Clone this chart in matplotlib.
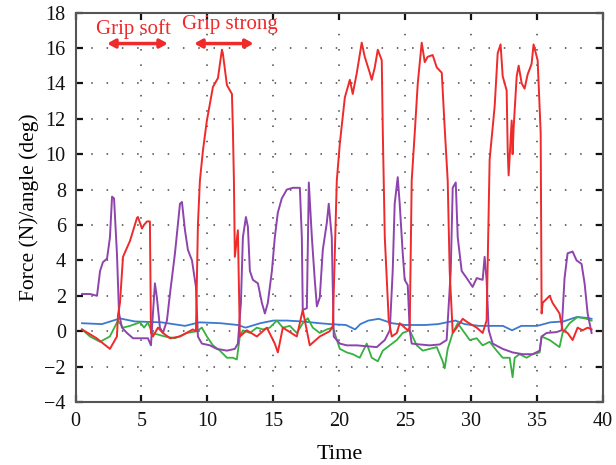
import matplotlib
matplotlib.use("Agg")
import matplotlib.pyplot as plt

# ---- data ----
red_x = [0.49, 1.6, 2.61, 3.14, 3.22, 3.37, 3.60, 4.13, 4.66, 4.73, 5.04, 5.19, 5.42, 5.64, 5.72,
         5.87, 6.25, 6.63, 7.16, 7.92, 8.90, 9.13, 9.28, 9.43, 9.66, 9.96, 10.42, 10.80, 11.10, 11.17,
         11.48, 11.86, 11.93, 12.01, 12.08, 12.31, 12.46, 12.99, 13.75, 14.51, 15.11, 15.34, 15.72,
         16.78, 17.23, 17.76, 18.52, 19.28, 19.51, 19.81, 20.04, 20.42, 20.80, 21.02, 21.33, 21.70,
         21.93, 22.31, 22.46, 22.69, 22.92, 23.22, 23.30, 23.45, 23.75, 23.98, 24.36, 24.58, 24.81,
         25.19, 25.34, 25.49, 25.72, 25.95, 26.25, 26.48, 26.70, 27.08, 27.39, 27.77, 27.99, 28.22,
         28.37, 28.60, 28.90, 29.36, 29.73, 30.42, 30.87, 31.17, 31.40, 31.78, 32.01, 32.23, 32.39,
         32.69, 32.77, 32.84, 33.07, 33.14, 33.22, 33.45, 33.60, 33.83, 34.05, 34.28, 34.58, 34.73,
         35.04, 35.27, 35.34, 35.42, 35.95, 36.17, 36.70, 36.93, 37.31, 37.69, 38.07, 38.45, 38.83, 39.13]
red_y = [0.1, -0.4, -1.0, -0.3, 0.9, 1.6, 4.2, 5.1, 6.4, 6.45, 5.8, 6.0, 6.2, 6.2, -0.1,
         -0.3, 0.2, -0.1, -0.4, -0.3, 0.1, 0.0, 6.0, 8.5, 10.2, 11.9, 13.8, 14.3, 15.9, 15.7,
         13.9, 13.4, 11.5, 8.5, 4.2, 5.7, -0.3, 0.05, -0.3, 0.2, -0.7, -1.2, 0.2,
         -0.3, 1.2, -0.8, -0.3, 0.0, 0.3, 8.5, 10.6, 13.2, 14.2, 13.4, 14.6, 16.3,
         15.5, 14.6, 14.2, 14.9, 15.9, 15.3, 11.2, 5.3, 0.6, -0.3, -0.1, 0.45, 0.3,
         0.05, 0.2, 8.5, 11.2, 14.0, 16.3, 15.2, 15.5, 15.6, 14.9, 14.6, 11.5, 8.5,
         3.4, -0.1, 0.2, 0.7, 0.5, 0.2, -0.1, 0.6, 9.7, 12.7, 15.7, 16.2, 14.4,
         13.6, 10.2, 8.8, 11.9, 10.0, 11.5, 14.4, 15.0, 14.0, 13.7, 14.5, 15.1, 16.2,
         15.3, 11.2, 1.0, 1.6, 2.0, 1.6, 1.0, 0.05, -0.1, -0.5, 0.2, 0.05, 0.2, 0.1]

purple_x = [0.49, 1.10, 1.63, 1.86, 2.08, 2.39, 2.61, 2.77, 2.92, 3.14, 3.30, 3.52, 3.90, 4.36, 5.11,
            5.49, 5.72, 5.87, 6.02, 6.17, 6.40, 6.63, 6.93, 7.16, 7.54, 7.92, 8.07, 8.30, 8.52, 8.83,
            9.13, 9.28, 9.58, 10.19, 10.72, 11.48, 12.08, 12.31, 12.54, 12.69, 12.92, 13.07, 13.22,
            13.45, 13.83, 14.13, 14.36, 14.58, 14.89, 15.11, 15.34, 15.64, 16.02, 16.48, 17.01, 17.16,
            17.23, 17.54, 17.69, 17.92, 18.14, 18.30, 18.52, 18.75, 19.05, 19.20, 19.43, 19.58, 20.04,
            20.57, 21.33, 22.08, 22.84, 23.45, 23.83, 24.05, 24.20, 24.43, 24.58, 24.81, 24.96, 25.19,
            25.34, 25.49, 26.10, 26.86, 27.61, 28.14, 28.45, 28.60, 28.83, 28.98, 29.28, 29.66, 30.11,
            30.42, 30.87, 31.02, 31.17, 31.33, 31.63, 32.39, 33.14, 33.90, 34.66, 35.19, 35.34, 35.72,
            36.48, 36.86, 37.08, 37.31, 37.69, 37.99, 38.37, 38.60, 38.83, 39.13]
purple_y = [2.1, 2.1, 2.0, 3.4, 3.9, 4.1, 5.3, 7.6, 7.5, 4.4, 1.0, 0.2, -0.1, -0.4, -0.4,
            -0.4, -0.8, 1.0, 2.7, 1.9, 0.2, -0.1, 0.6, 2.1, 4.4, 7.2, 7.3, 5.7, 4.6, 4.0,
            2.5, -0.3, -0.7, -0.8, -1.0, -1.1, -1.0, -0.7, 1.6, 5.3, 6.45, 5.9, 3.4,
            2.9, 2.7, 1.6, 1.0, 1.6, 3.4, 5.3, 6.7, 7.5, 8.0, 8.1, 8.1, 5.3,
            1.2, 1.3, 8.4, 5.3, 2.9, 1.4, 1.9, 4.6, 6.1, 7.2, 5.3, -0.3, -0.7,
            -0.8, -0.8, -0.85, -0.9, -0.5, 0.05, 3.4, 7.2, 8.7, 7.2, 4.4, 2.9, 2.6,
            0.05, -0.7, -0.75, -0.8, -0.75, -0.5, 3.4, 8.1, 8.4, 5.3, 3.4, 3.0, 2.5,
            3.0, 2.9, 4.2, 2.9, 0.05, -0.7, -1.0, -1.2, -1.3, -1.3, -1.1, -0.3, -0.1,
            -0.05, 0.05, 3.0, 4.4, 4.5, 4.0, 3.8, 2.7, 1.0, -0.1]

blue_x = [0.49, 2.0, 3.37, 4.5, 6.5, 8.3, 9.4, 11.0, 12.3, 12.9, 14.0, 15.0, 16.0, 17.2, 18.5, 19.3,
          20.5, 21.2, 21.6, 22.2, 23.0, 24.0, 25.0, 26.5, 27.5, 28.8, 29.5, 30.6, 32.4, 33.1, 33.8,
          35.0, 36.0, 37.0, 38.0, 38.8, 39.13]
blue_y = [0.45, 0.4, 0.72, 0.55, 0.5, 0.3, 0.5, 0.45, 0.35, 0.2, 0.45, 0.6, 0.6, 0.55, 0.45, 0.4,
          0.35, 0.1, 0.4, 0.6, 0.7, 0.45, 0.35, 0.35, 0.4, 0.6, 0.4, 0.3, 0.3, 0.05, 0.3,
          0.3, 0.5, 0.55, 0.8, 0.75, 0.7]

green_x = [0.49, 1.1, 1.86, 2.6, 3.22, 3.60, 4.13, 4.89, 5.2, 5.49, 5.80, 6.78, 7.54, 8.45, 9.20,
           9.58, 9.96, 10.42, 10.95, 11.48, 11.93, 12.23, 12.46, 12.69, 13.22, 13.75, 14.20, 14.73,
           15.27, 15.72, 16.25, 16.78, 17.23, 17.61, 17.99, 18.52, 19.05, 19.51, 20.04, 20.57, 21.02,
           21.55, 22.08, 22.46, 22.92, 23.30, 23.83, 24.36, 24.81, 25.34, 25.87, 26.33, 26.86, 27.39,
           27.84, 27.99, 28.22, 28.60, 28.98, 29.36, 29.89, 30.42, 30.87, 31.40, 31.93, 32.39, 32.92,
           33.14, 33.30, 33.67, 34.20, 34.66, 35.19, 35.34, 35.95, 36.70, 36.93, 37.46, 38.07, 38.75, 39.13]
green_y = [0.1, -0.3, -0.6, -0.3, 0.6, 0.2, 0.3, 0.5, 0.2, 0.5, -0.1, -0.3, -0.4, -0.1, 0.0,
           0.2, -0.3, -0.8, -1.1, -1.5, -1.5, -1.6, -0.3, 0.05, -0.1, 0.2, 0.1, 0.2, 0.6, 0.2,
           0.3, -0.1, 0.45, 0.73, 0.2, -0.1, 0.1, 0.2, -1.0, -1.2, -1.3, -1.5, -0.7, -1.5, -1.7,
           -1.1, -0.8, -0.5, -0.1, 0.05, -0.8, -1.1, -1.0, -0.9, -1.7, -2.1, -1.0, -0.1, 0.45,
           0.05, -0.5, -0.4, -0.8, -0.6, -1.1, -1.5, -1.5, -2.6, -1.5, -1.3, -1.5, -1.3, -1.2,
           -0.3, -0.5, -0.9, -0.1, 0.45, 0.8, 0.7, 0.6]

xticks = [0, 5, 10, 15, 20, 25, 30, 35, 40]
yticks = [-4, -2, 0, 2, 4, 6, 8, 10, 12, 14, 16, 18]

plt.rcParams['font.family'] = ['Liberation Serif', 'DejaVu Serif']

fig = plt.figure(figsize=(6.16, 4.65), dpi=100)
ax = fig.add_axes([0.1226, 0.1355, 0.8564, 0.8375])

ax.plot(blue_x, blue_y, color='#3b78cf', lw=1.3)
ax.plot(green_x, green_y, color='#36b03e', lw=1.3)
ax.plot(purple_x, purple_y, color='#8e44ad', lw=1.4)
ax.plot(red_x, red_y, color='#ee2a2a', lw=1.4)

ax.set_xlim(0, 40)
ax.set_ylim(-4, 18)
ax.set_xticks(xticks)
ax.set_yticks(yticks)
ax.set_yticklabels([str(v).replace('-', '\u2212') for v in yticks])
ax.tick_params(direction='in', top=True, right=True, length=5, width=1.6, labelsize=14.5,
               pad=7, colors='#111111')
ax.grid(True, color='#444444', linestyle=(0, (1, 9)), linewidth=1.1)
for s in ax.spines.values():
    s.set_color('#555555')
    s.set_linewidth(1.5)

ax.set_xlabel('Time', fontsize=16, labelpad=10)
ax.set_ylabel('Force (N)/angle (deg)', fontsize=15.5, labelpad=4)

ax.text(4.36, 17.05, 'Grip soft', color='#ee2a2a', fontsize=15, ha='center', va='center')
ax.text(11.7, 17.35, 'Grip strong', color='#ee2a2a', fontsize=15, ha='center', va='center')
for x0, x1 in [(2.4, 7.0), (9.0, 13.5)]:
    ax.annotate('', xy=(x0, 16.25), xytext=(x1, 16.25),
                arrowprops=dict(arrowstyle='<|-|>,head_length=0.45,head_width=0.25',
                                color='#ee2a2a', lw=2.5, shrinkA=0, shrinkB=0))

fig.savefig('out.png', dpi=100)
